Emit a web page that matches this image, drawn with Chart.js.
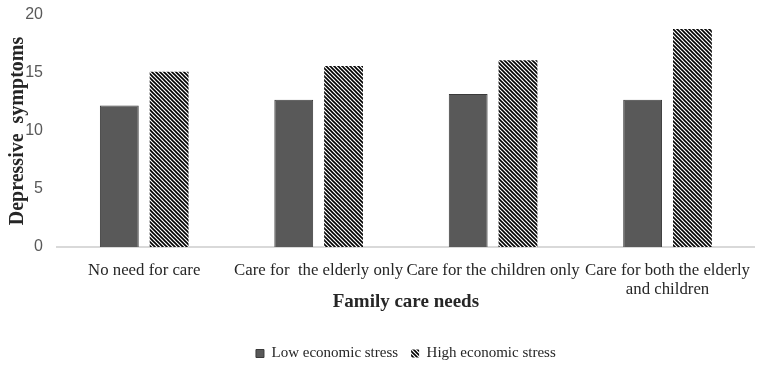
<!DOCTYPE html>
<html><head><meta charset="utf-8">
<script src="https://cdn.jsdelivr.net/npm/chart.js@4/dist/chart.umd.min.js"></script>
<style>html,body{margin:0;padding:0;background:#fff}</style>
</head><body>
<canvas id="c" width="765" height="373" style="display:block;width:765px;height:373px"></canvas>
<script>
const categories = ["No need for care", "Care for  the elderly only", "Care for the children only", ["Care for both the elderly", "and children"]];
const seriesNames = ["Low economic stress", "High economic stress"];
const lowStress = [12.2, 12.7, 13.2, 12.7];
const highStress = [15.1, 15.6, 16.1, 18.8];
const yTicks = [0, 5, 10, 15, 20];
const xTitle = "Family care needs";
const yTitle = "Depressive  symptoms";

function hatch() {
  const s = 4;
  const cv = document.createElement('canvas');
  cv.width = s; cv.height = s;
  const g = cv.getContext('2d');
  g.fillStyle = '#ffffff'; g.fillRect(0, 0, s, s);
  g.strokeStyle = '#000000'; g.lineWidth = 1.6;
  for (const o of [-s, 0, s]) {
    g.beginPath(); g.moveTo(o - 1, -1); g.lineTo(o + s + 1, s + 1); g.stroke();
  }
  return g.createPattern(cv, 'repeat');
}

const serif = "'Liberation Serif', 'Times New Roman', serif";
const sans = "'Liberation Sans', Arial, sans-serif";

new Chart(document.getElementById('c'), {
  type: 'bar',
  data: {
    labels: categories,
    datasets: [
      { label: seriesNames[0], data: lowStress, backgroundColor: '#595959', borderColor: '#3a3a3a', borderWidth: 1 },
      { label: seriesNames[1], data: highStress, backgroundColor: hatch(), borderColor: 'rgba(0,0,0,0)', borderWidth: 0 }
    ]
  },
  options: {
    responsive: false,
    animation: false,
    categoryPercentage: 0.571,
    barPercentage: 0.78,
    layout: { padding: { top: 15, right: 8, left: 0, bottom: 2 } },
    plugins: {
      tooltip: { enabled: false },
      legend: {
        position: 'bottom',
        fullSize: false,
        labels: { boxWidth: 8, boxHeight: 8, padding: 13, color: '#262626', font: { family: serif, size: 15 } }
      }
    },
    scales: {
      x: {
        grid: { display: false, drawTicks: false },
        border: { display: true, color: '#d9d9d9', width: 2 },
        ticks: { color: '#262626', padding: 14, maxRotation: 0, autoSkip: false, font: { family: serif, size: 16.8, lineHeight: 1.13 } },
        title: { display: true, text: xTitle, color: '#262626', padding: { top: 0, bottom: 20 }, font: { family: serif, size: 19, weight: 'bold' } },
        afterFit: s => { s.height = 86; }
      },
      y: {
        min: 0, max: 20,
        afterBuildTicks: s => { s.ticks = yTicks.map(v => ({ value: v })); },
        grid: { display: false, drawTicks: false },
        border: { display: false },
        ticks: { color: '#595959', padding: 14, font: { family: sans, size: 16, lineHeight: 0.5 } },
        title: { display: true, text: yTitle, color: '#262626', padding: { top: 6, bottom: 0 }, font: { family: serif, size: 20, weight: 'bold' } },
        afterFit: s => { s.width = 57; s.paddingTop = 0; s.paddingBottom = 0; }
      }
    }
  }
});
</script>
</body></html>
